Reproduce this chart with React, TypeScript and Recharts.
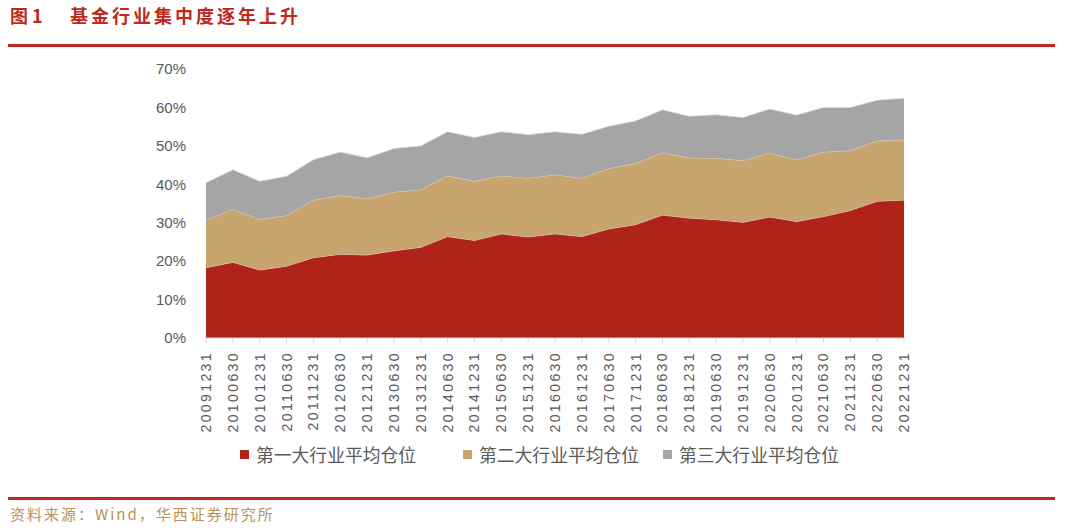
import { Area, AreaChart, XAxis, YAxis } from "recharts";

const dates = [
  "20091231", "20100630", "20101231", "20110630", "20111231", "20120630",
  "20121231", "20130630", "20131231", "20140630", "20141231", "20150630",
  "20151231", "20160630", "20161231", "20170630", "20171231", "20180630",
  "20181231", "20190630", "20191231", "20200630", "20201231", "20210630",
  "20211231", "20220630", "20221231",
];

// 平均仓位 (%)
const first = [
  18.3, 19.7, 17.7, 18.7, 20.9, 21.8, 21.6, 22.7, 23.6, 26.4, 25.4, 27.1, 26.3,
  27.1, 26.4, 28.4, 29.5, 32.0, 31.2, 30.8, 30.1, 31.5, 30.3, 31.6, 33.2, 35.6, 35.9,
];
const second = [
  12.3, 13.8, 13.2, 13.2, 15.0, 15.3, 14.7, 15.3, 15.0, 15.8, 15.4, 15.1, 15.3,
  15.4, 15.2, 15.7, 15.9, 16.2, 15.7, 16.0, 16.1, 16.6, 16.1, 16.8, 15.6, 15.7, 15.7,
];
const third = [
  9.8, 10.3, 9.9, 10.2, 10.5, 11.3, 10.6, 11.3, 11.4, 11.5, 11.4, 11.5, 11.3,
  11.2, 11.4, 11.0, 11.1, 11.2, 10.8, 11.3, 11.2, 11.5, 11.6, 11.6, 11.2, 10.6, 10.8,
];

const yTicks = [0, 10, 20, 30, 40, 50, 60, 70];

const series = [
  { key: "first", name: "第一大行业平均仓位", color: "#AF2318" },
  { key: "second", name: "第二大行业平均仓位", color: "#C8A56E" },
  { key: "third", name: "第三大行业平均仓位", color: "#A5A5A5" },
];
const legendLeft = [240, 463, 663];

const RED = "#C0281E";
const FONT = "'Noto Sans CJK SC', 'Liberation Sans', sans-serif";

const DateTick = ({ x, y, payload }: any) => (
  <text
    x={0}
    y={0}
    transform={`translate(${x + 5},${y + 6}) rotate(-90)`}
    textAnchor="end"
    fill="#595959"
    fontSize={14}
    letterSpacing={2.4}
    fontFamily="'Liberation Sans', sans-serif"
  >
    {payload.value}
  </text>
);

export default function App() {
  const data = dates.map((d, i) => ({
    date: d,
    first: first[i],
    second: second[i],
    third: third[i],
  }));

  return (
    <div
      style={{
        position: "absolute",
        left: 0,
        top: 0,
        width: 1080,
        height: 528,
        background: "#fff",
        fontFamily: FONT,
        overflow: "hidden",
      }}
    >
      <div
        style={{
          position: "absolute",
          left: 10,
          top: 2,
          fontSize: 18,
          color: RED,
          fontWeight: 700,
          whiteSpace: "pre",
        }}
      >
        {"图 1"}
      </div>
      <div
        style={{
          position: "absolute",
          left: 70,
          top: 2,
          fontSize: 18,
          color: RED,
          fontWeight: 700,
          letterSpacing: 3,
        }}
      >
        基金行业集中度逐年上升
      </div>
      <div style={{ position: "absolute", left: 8, top: 44, width: 1047, height: 3, background: RED }} />

      <div style={{ position: "absolute", left: 0, top: 50 }}>
        <AreaChart
          width={1080}
          height={383}
          data={data}
          margin={{ top: 19, right: 176, left: 146, bottom: 0 }}
        >
          <XAxis
            dataKey="date"
            interval={0}
            height={95}
            tick={<DateTick />}
            tickLine={{ stroke: "#D9D9D9" }}
            tickSize={5}
            axisLine={{ stroke: "#D9D9D9" }}
          />
          <YAxis
            width={60}
            domain={[0, 70]}
            ticks={yTicks}
            tickFormatter={(v) => `${v}%`}
            axisLine={false}
            tickLine={false}
            tick={{ fill: "#595959", fontSize: 15, fontFamily: "'Liberation Sans', sans-serif" }}
            tickMargin={14}
          />
          {series.map((s) => (
            <Area
              key={s.key}
              type="linear"
              dataKey={s.key}
              name={s.name}
              stackId="1"
              fill={s.color}
              fillOpacity={1}
              stroke="#E6DCCB"
              strokeWidth={0.8}
              isAnimationActive={false}
            />
          ))}
        </AreaChart>
      </div>

      {series.map((s, i) => (
        <div
          key={s.key}
          style={{
            position: "absolute",
            left: legendLeft[i],
            top: 441,
            display: "flex",
            alignItems: "center",
            fontSize: 17.8,
            color: "#595959",
          }}
        >
          <span style={{ width: 9, height: 9, background: s.color, marginRight: 7, display: "inline-block" }} />
          {s.name}
        </div>
      ))}

      <div style={{ position: "absolute", left: 8, top: 497, width: 1047, height: 3, background: RED }} />
      <div
        style={{
          position: "absolute",
          left: 10,
          top: 503,
          fontSize: 15,
          letterSpacing: 2,
          color: "#B8935A",
          fontFamily: "'Noto Sans CJK SC', 'DejaVu Sans Mono', monospace",
        }}
      >
        资料来源：Wind，华西证券研究所
      </div>
    </div>
  );
}
